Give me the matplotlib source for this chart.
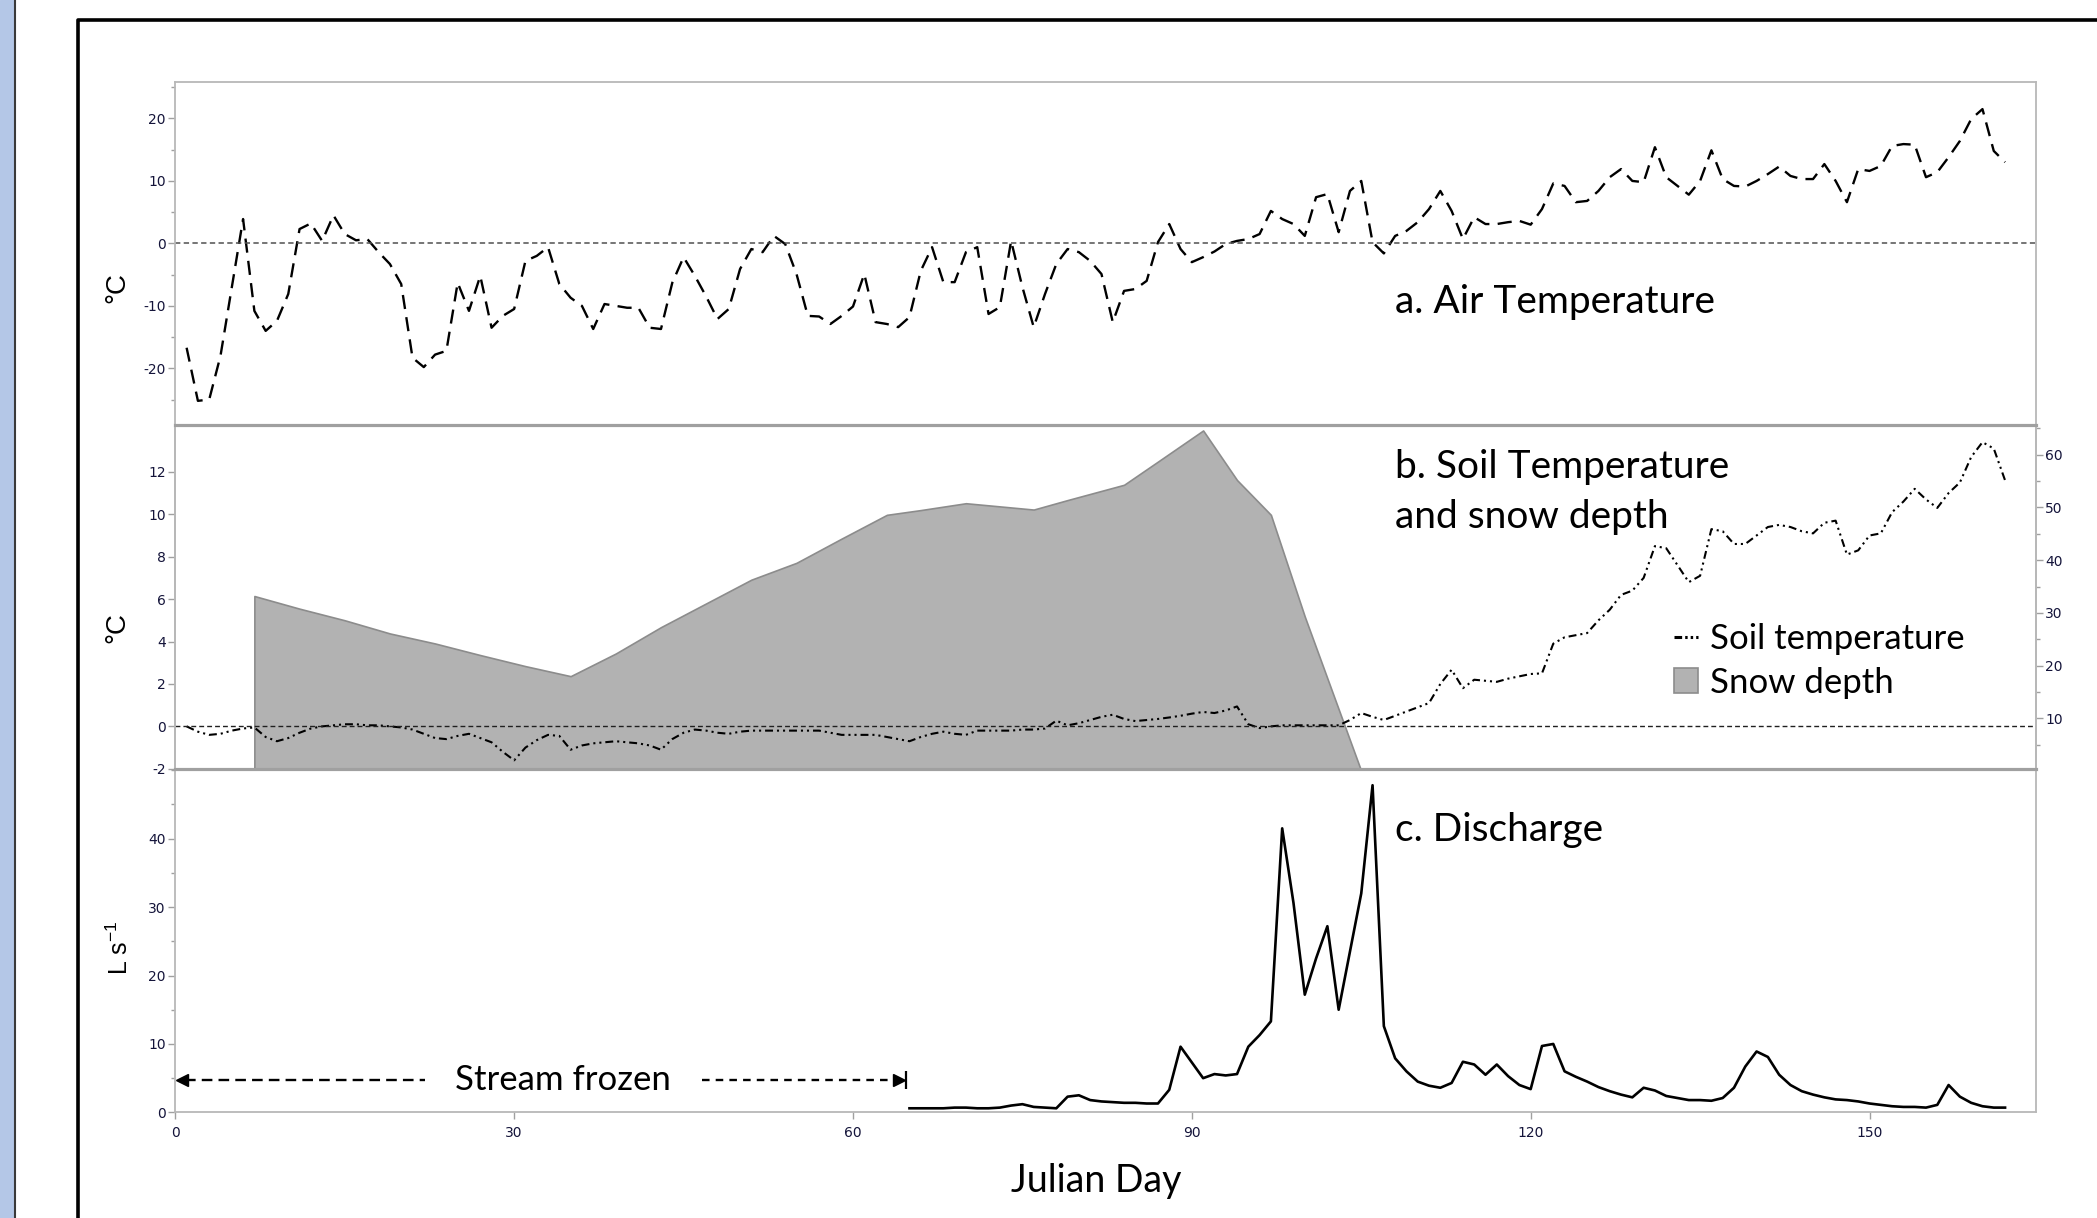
import numpy as np
import matplotlib
matplotlib.use("Agg")
import matplotlib.pyplot as plt
from matplotlib import font_manager
from matplotlib.lines import Line2D
from matplotlib.patches import Patch, Rectangle
from matplotlib.ticker import MultipleLocator

plt.rcParams["font.family"] = ["Lato", "DejaVu Sans"]
plt.rcParams["mathtext.default"] = "regular"
plt.rcParams["axes.unicode_minus"] = False

# ---- data ----
# daily air temperature, Julian day 1..162
air_days = np.arange(1, 163)
air_temp = [
    -16.7, -25.2, -25.0, -18.0, -7.0, 3.9, -10.8, -14.0, -12.4, -8.1,
    2.3, 3.2, 0.4, 4.5, 1.5, 0.5, 0.7, -1.4, -3.3, -6.5,
    -18.3, -19.8, -17.8, -17.2, -6.3, -10.8, -5.2, -13.5, -11.6, -10.5,
    -2.8, -2.0, -0.6, -6.5, -8.7, -10.0, -13.7, -9.7, -10.0, -10.3,
    -10.3, -13.5, -13.7, -6.3, -2.2, -5.2, -8.5, -12.1, -10.5, -4.1,
    -0.9, -1.4, 1.2, -0.1, -4.9, -11.6, -11.7, -12.9, -11.6, -10.1,
    -4.9, -12.6, -12.9, -13.4, -11.8, -4.4, -0.6, -6.2, -6.2, -1.4,
    -0.6, -11.3, -10.2, 0.4, -7.0, -13.4, -8.1, -3.3, -0.9, -1.4,
    -2.8, -4.9, -12.6, -7.6, -7.3, -6.0, 0.2, 3.1, -0.9, -3.0,
    -2.2, -1.3, -0.1, 0.4, 0.7, 1.5, 5.2, 3.9, 3.1, 1.2,
    7.4, 7.9, 1.8, 8.4, 10.0, 0.2, -1.6, 1.2, 2.0, 3.4,
    5.5, 8.4, 5.2, 0.7, 4.2, 3.1, 3.1, 3.4, 3.6, 3.0,
    5.5, 9.6, 9.2, 6.6, 6.8, 8.4, 10.6, 11.9, 10.0, 9.8,
    15.4, 10.6, 9.2, 7.8, 10.0, 14.9, 10.3, 9.2, 9.1, 10.0,
    11.1, 12.3, 10.8, 10.3, 10.3, 12.7, 10.0, 6.6, 11.9, 11.6,
    12.4, 15.6, 15.9, 15.8, 10.6, 11.4, 13.8, 16.4, 19.9, 21.5,
    14.8, 13.0,
]

# daily soil temperature, Julian day 1..162
soil_days = np.arange(1, 163)
soil_temp = [
    0.0, -0.25, -0.4, -0.35, -0.2, -0.1, -0.05, -0.5, -0.7, -0.55,
    -0.3, -0.1, 0.0, 0.05, 0.1, 0.1, 0.05, 0.05, 0.0, -0.05,
    -0.15, -0.35, -0.55, -0.6, -0.45, -0.35, -0.55, -0.75, -1.2, -1.6,
    -1.0, -0.65, -0.4, -0.45, -1.1, -0.9, -0.8, -0.75, -0.7, -0.75,
    -0.8, -0.9, -1.1, -0.6, -0.3, -0.15, -0.2, -0.3, -0.35, -0.25,
    -0.2, -0.2, -0.2, -0.2, -0.2, -0.2, -0.2, -0.3, -0.4, -0.4,
    -0.4, -0.4, -0.5, -0.6, -0.7, -0.5, -0.35, -0.25, -0.35, -0.4,
    -0.2, -0.2, -0.2, -0.2, -0.15, -0.15, -0.1, 0.27, 0.05, 0.15,
    0.3, 0.45, 0.55, 0.35, 0.25, 0.3, 0.35, 0.42, 0.5, 0.6,
    0.68, 0.63, 0.75, 0.94, 0.1, -0.08, 0.0, 0.05, 0.05, 0.05,
    0.05, 0.05, 0.05, 0.3, 0.63, 0.45, 0.3, 0.5, 0.7, 0.9,
    1.1, 2.0, 2.67, 1.8, 2.2, 2.15, 2.1, 2.25, 2.36, 2.47,
    2.5, 3.9, 4.2, 4.3, 4.4, 5.0, 5.5, 6.2, 6.4, 7.0,
    8.5, 8.4, 7.6, 6.8, 7.1, 9.3, 9.2, 8.6, 8.6, 9.0,
    9.4, 9.5, 9.4, 9.2, 9.1, 9.6, 9.7, 8.1, 8.3, 9.0,
    9.1, 10.1, 10.6, 11.2, 10.7, 10.3, 11.0, 11.5, 12.7, 13.4,
    13.1, 11.6,
]

# snow depth (cm, right axis)
snow_days = [7, 11, 15, 19, 23, 27, 31, 35, 39, 43, 47, 51, 55, 59, 63,
             66, 70, 74, 76, 79, 84, 87, 91, 94, 97, 100, 105]
snow_depth = [33.2, 30.8, 28.6, 26.1, 24.2, 22.0, 19.9, 18.0, 22.3, 27.3,
              31.8, 36.3, 39.5, 44.1, 48.6, 49.5, 50.8, 50.0, 49.6, 51.4,
              54.3, 58.7, 64.6, 55.2, 48.6, 29.3, 0.0]

# stream discharge (L/s), Julian day 65..162
q_days = np.arange(65, 163)
discharge = [
    0.6, 0.6, 0.6, 0.6, 0.7, 0.7, 0.6, 0.6, 0.7, 1.0,
    1.2, 0.8, 0.7, 0.6, 2.3, 2.5, 1.8, 1.6, 1.5, 1.4,
    1.4, 1.3, 1.3, 3.3, 9.6, 7.3, 5.0, 5.6, 5.4, 5.6,
    9.6, 11.3, 13.3, 41.5, 30.6, 17.2, 22.5, 27.2, 15.0, 23.5,
    32.0, 47.8, 12.6, 7.9, 6.0, 4.5, 3.9, 3.6, 4.3, 7.4,
    7.0, 5.5, 7.0, 5.3, 4.0, 3.4, 9.7, 10.0, 6.0, 5.2,
    4.5, 3.7, 3.1, 2.6, 2.2, 3.6, 3.2, 2.4, 2.1, 1.8,
    1.8, 1.7, 2.1, 3.6, 6.7, 8.9, 8.1, 5.5, 4.0, 3.1,
    2.6, 2.2, 1.9, 1.8, 1.6, 1.3, 1.1, 0.9, 0.8, 0.8,
    0.7, 1.1, 4.0, 2.3, 1.4, 0.9, 0.7, 0.7,
]

# "Stream frozen" arrow: day range and gap left for the label
frozen_from, frozen_to = 0.0, 64.7
frozen_label_gap = (22.1, 46.6)
frozen_level = 4.7

x_ticks = [0, 30, 60, 90, 120, 150]

# ---- styling ----
SPINE = "#b8b8b8"
SEP = "#a0a0a0"
TICK = "#a0a0a0"
TICKLAB = "#14143a"
SOIL_DASH = (3.8, 1.9, 1.0, 1.9, 1.0, 1.9)

installed = {f.name for f in font_manager.fontManager.ttflist}
if "Liberation Sans Narrow" in installed:
    TICKFONT, TICKSIZE = "Liberation Sans Narrow", 11.8
else:
    TICKFONT, TICKSIZE = "DejaVu Sans", 10.0
LABELFONT = ["Liberation Sans", "DejaVu Sans"]

fig = plt.figure(figsize=(20.97, 12.18), dpi=100)

# slide decorations: blue strip and black frame
fig.patches.append(Rectangle((0, 0), 0.0064, 1, transform=fig.transFigure,
                             color="#b4c7e7", zorder=0))
fig.lines.append(Line2D([0.0070, 0.0070], [0, 1], transform=fig.transFigure,
                        color="#3a3a3a", lw=1.5))
fig.lines.append(Line2D([0.0372, 0.0372, 1.0], [0, 0.9835, 0.9835],
                        transform=fig.transFigure, color="black", lw=2.6))

left, width, h = 0.0836, 0.8871, 0.2821
axA = fig.add_axes([left, 0.3688 + h, width, h])
axB = fig.add_axes([left, 0.3688, width, h])
axC = fig.add_axes([left, 0.0867, width, h])
axS = axB.twinx()
axB.set_zorder(axS.get_zorder() + 1)
axB.patch.set_visible(False)


def style_axis(ax):
    for s in ax.spines.values():
        s.set_color(SPINE)
        s.set_linewidth(1.3)
    ax.tick_params(axis="both", which="both", direction="out", color=TICK,
                   width=1, labelcolor=TICKLAB, labelsize=TICKSIZE, pad=2,
                   labelfontfamily=TICKFONT)
    ax.tick_params(axis="y", which="major", length=5)
    ax.tick_params(axis="y", which="minor", length=3)
    ax.set_xlim(0, 164.7)


# ---- a. air temperature ----
axA.plot(air_days, air_temp, color="black", lw=1.7, dashes=(6, 3.5))
axA.axhline(0, color="#505050", lw=1.1, dashes=(3.5, 2.2))
axA.set_ylim(-29.1, 25.9)
axA.set_yticks([-20, -10, 0, 10, 20])
axA.yaxis.set_minor_locator(MultipleLocator(5))
axA.tick_params(axis="x", which="both", bottom=False, labelbottom=False)
style_axis(axA)
axA.spines["bottom"].set_color(SEP)
axA.spines["bottom"].set_linewidth(2.2)
axA.text(0.6556, 0.358, "a. Air Temperature", transform=axA.transAxes,
         va="center", ha="left", fontsize=28)
axA.text(-0.031, 0.40, "°C", transform=axA.transAxes, rotation=90,
         ha="center", va="center", fontsize=20, family=LABELFONT)

# ---- b. soil temperature and snow depth ----
axS.fill_between(snow_days, snow_depth, 0, color="#b2b2b2",
                 edgecolor="#8c8c8c", lw=1.2)
axS.set_ylim(0.43, 65.6)
axS.set_yticks([10, 20, 30, 40, 50, 60])
axS.yaxis.set_minor_locator(MultipleLocator(5))
style_axis(axS)

axB.plot(soil_days, soil_temp, color="black", lw=1.5, dashes=SOIL_DASH)
axB.axhline(0, color="#202020", lw=1.0, dashes=(3.5, 2.2))
axB.set_ylim(-2, 14.2)
axB.set_yticks([-2, 0, 2, 4, 6, 8, 10, 12])
axB.tick_params(axis="x", which="both", bottom=False, labelbottom=False)
style_axis(axB)
for ax in (axB, axS):
    ax.spines["top"].set_color(SEP)
    ax.spines["top"].set_linewidth(2.2)
    ax.spines["bottom"].set_color(SEP)
    ax.spines["bottom"].set_linewidth(2.2)
axS.tick_params(axis="x", which="both", bottom=False, labelbottom=False)

axB.text(0.6556, 0.879, "b. Soil Temperature", transform=axB.transAxes,
         va="center", ha="left", fontsize=28)
axB.text(0.6556, 0.732, "and snow depth", transform=axB.transAxes,
         va="center", ha="left", fontsize=28)
axB.text(-0.031, 0.41, "°C", transform=axB.transAxes, rotation=90,
         ha="center", va="center", fontsize=20, family=LABELFONT)

handles = [
    Line2D([], [], color="black", lw=2.2, dashes=(2.5, 1.0, 0.8, 1.0, 0.8, 1.0)),
    Patch(facecolor="#b2b2b2", edgecolor="#8c8c8c", lw=1.2),
]
axB.legend(handles, ["Soil temperature", "Snow depth"], loc="center left",
           bbox_to_anchor=(0.8055, 0.314), frameon=False, fontsize=25,
           handlelength=0.7, handleheight=0.75, handletextpad=0.35,
           labelspacing=0.33, borderpad=0, borderaxespad=0)

# ---- c. discharge ----
axC.plot(q_days, discharge, color="black", lw=1.9)
axC.set_ylim(0, 50.2)
axC.set_yticks([0, 10, 20, 30, 40])
axC.yaxis.set_minor_locator(MultipleLocator(5))
axC.set_xticks(x_ticks)
style_axis(axC)
axC.tick_params(axis="x", length=5, pad=5)
axC.spines["top"].set_color(SEP)
axC.spines["top"].set_linewidth(2.2)
axC.text(0.6556, 0.821, "c. Discharge", transform=axC.transAxes,
         va="center", ha="left", fontsize=28)
axC.text(-0.030, 0.48, "L s$^{-1}$", transform=axC.transAxes, rotation=90,
         ha="center", va="center", fontsize=18, family=LABELFONT)

# stream frozen arrow (two dashed halves around the label)
axC.plot([frozen_from + 0.9, frozen_label_gap[0]], [frozen_level] * 2,
         color="black", lw=1.7, dashes=(4.5, 2.6))
axC.plot([frozen_label_gap[1], frozen_to - 0.8], [frozen_level] * 2,
         color="black", lw=1.7, dashes=(3.2, 2.6))
axC.plot(frozen_from + 0.6, frozen_level, marker="<", ms=9, color="black",
         clip_on=False)
axC.plot(frozen_to - 0.6, frozen_level, marker=">", ms=9, color="black")
axC.plot(frozen_to, frozen_level, marker="|", ms=13, mew=1.6, color="black")
axC.text(sum(frozen_label_gap) / 2, frozen_level, "Stream frozen",
         ha="center", va="center", fontsize=25)

fig.text(0.523, 0.030, "Julian Day", ha="center", va="center", fontsize=27)

fig.savefig("out.png", dpi=100)
